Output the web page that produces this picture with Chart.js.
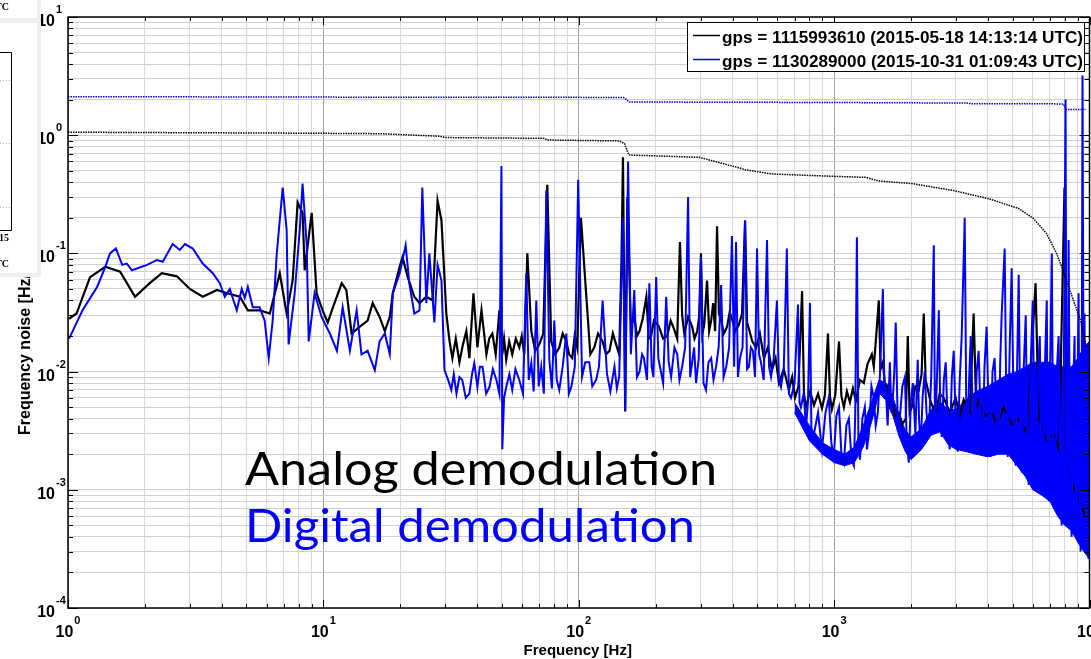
<!DOCTYPE html>
<html>
<head>
<meta charset="utf-8">
<script src="https://cdn.jsdelivr.net/npm/chart.js@4.4.1/dist/chart.umd.min.js"></script>
<style>
  html, body { margin: 0; padding: 0; background: #fff; overflow: hidden; }
  canvas { display: block; }
</style>
</head>
<body>
<canvas id="noiseChart" width="1091" height="659"></canvas>
<script>
// legend labels
const analogLabel = "gps = 1115993610 (2015-05-18 14:13:14 UTC)";
const digitalLabel = "gps = 1130289000 (2015-10-31 01:09:43 UTC)";

// axis decades (tick labels are 10^n of these)
const xDecades = [1, 10, 100, 1000, 10000];
const yDecades = [1e-4, 1e-3, 1e-2, 1e-1, 1, 10];
const minorSteps = [1, 2, 3, 4, 5, 6, 7, 8, 9];

// analog demodulation spectrum [Hz] / [Hz/rtHz]
const analogFreq = [1.01, 1.08, 1.22, 1.40, 1.60, 1.83, 2.09, 2.33, 2.67, 3.0, 3.37, 3.83, 4.19, 4.71, 5.06, 5.63, 6.17, 6.75, 7.18, 7.58,
  7.93, 8.29, 8.45, 9.0, 9.41, 9.93, 10.4, 10.9, 11.8, 12.3, 12.9, 13.9, 14.9, 15.6, 16.6, 17.4, 18.2, 18.7, 19.9, 20.4,
  21.4, 22.7, 23.8, 25.3, 26.8, 28.0, 29.0, 30.3, 31.2, 32.0, 33.0, 34.1, 35.2, 36.3, 37.3, 38.7, 40.1, 41.6, 43.5, 44.6,
  45.9, 47.3, 48.9, 50.2, 51.0, 52.0, 53.4, 54.9, 56.7, 58.5, 59.8, 61.2, 62.9, 65.2, 67.5, 70.1, 72.6, 75.3, 78.0, 80.9,
  83.9, 86.5, 89.4, 91.7, 94.3, 96.4, 98.6, 102, 107, 111, 115, 119, 124, 128, 132, 136, 140, 144, 147, 149,
  152, 155, 160, 165, 169, 173, 178, 184, 188, 192, 197, 206, 214, 222, 229, 236, 243, 249, 254, 259,
  268, 278, 284, 291, 296, 301, 305, 310, 318, 324, 330, 336, 342, 348, 354, 361, 370, 381, 390, 398,
  410, 424, 436, 448, 456, 464, 478, 495, 512, 531, 550, 571, 590, 608, 635, 665, 685, 703, 725, 749,
  762, 776, 805, 834, 865, 896, 920, 946, 963, 980, 1010, 1045, 1068, 1092, 1122, 1153, 1185, 1217, 1262, 1307,
  1350, 1405, 1430, 1456, 1496, 1520, 1552, 1590, 1623, 1650, 1682, 1735, 1791, 1850, 1908, 1943, 1975, 2014, 2080, 2145,
  2200, 2244, 2282, 2390, 2500, 2590, 2686, 2840, 2992, 3100, 3216, 3400, 3518, 3600, 3680, 3900, 4138, 4350, 4611, 4950,
  5276, 5700, 6149, 6323, 6800, 7232, 7600, 7982, 8128, 8600, 9057, 9500, 9908];
const analogNoise = [0.028, 0.031, 0.063, 0.077, 0.070, 0.043, 0.056, 0.068, 0.064, 0.050, 0.043, 0.049, 0.046, 0.043, 0.033, 0.033, 0.031, 0.068, 0.031, 0.059,
  0.27, 0.22, 0.072, 0.22, 0.046, 0.033, 0.026, 0.035, 0.056, 0.049, 0.021, 0.024, 0.027, 0.038, 0.029, 0.022, 0.029, 0.046, 0.077, 0.093,
  0.063, 0.043, 0.038, 0.043, 0.040, 0.28, 0.19, 0.031, 0.018, 0.013, 0.019, 0.012, 0.017, 0.022, 0.013, 0.046, 0.016, 0.033, 0.014, 0.019,
  0.021, 0.014, 0.033, 0.014, 0.019, 0.0126, 0.018, 0.014, 0.019, 0.016, 0.020, 0.014, 0.10, 0.022, 0.015, 0.017, 0.021, 0.38, 0.018, 0.014,
  0.016, 0.021, 0.018, 0.014, 0.013, 0.020, 0.016, 0.20, 0.044, 0.014, 0.016, 0.021, 0.018, 0.014, 0.015, 0.021, 0.017, 0.014, 0.088, 0.65,
  0.0046, 0.30, 0.024, 0.029, 0.020, 0.022, 0.028, 0.043, 0.019, 0.020, 0.027, 0.024, 0.019, 0.020, 0.027, 0.023, 0.019, 0.125, 0.030, 0.021,
  0.029, 0.024, 0.019, 0.022, 0.029, 0.10, 0.021, 0.025, 0.059, 0.022, 0.027, 0.038, 0.022, 0.17, 0.031, 0.027, 0.021, 0.024, 0.032, 0.028,
  0.022, 0.025, 0.031, 0.19, 0.026, 0.023, 0.018, 0.016, 0.021, 0.013, 0.016, 0.0103, 0.013, 0.008, 0.0105, 0.007, 0.009, 0.006, 0.0075, 0.048,
  0.0065, 0.005, 0.0068, 0.0052, 0.0065, 0.0049, 0.0063, 0.021, 0.0062, 0.0048, 0.0063, 0.018, 0.0062, 0.005, 0.0068, 0.0055, 0.0072, 0.0057, 0.0085, 0.008,
  0.0115, 0.014, 0.011, 0.018, 0.040, 0.0105, 0.012, 0.0068, 0.0075, 0.0052, 0.0057, 0.0042, 0.0045, 0.0036, 0.004, 0.020, 0.0045, 0.005, 0.0075, 0.007,
  0.0095, 0.031, 0.0085, 0.0055, 0.0045, 0.0065, 0.006, 0.0045, 0.006, 0.0042, 0.0058, 0.0046, 0.031, 0.005, 0.0057, 0.0042, 0.0045, 0.0035, 0.005, 0.0036,
  0.004, 0.003, 0.056, 0.004, 0.0026, 0.003, 0.0022, 0.36, 0.002, 0.0011, 0.0008, 0.00065, 0.0005];

// digital demodulation spectrum
const digitalFreq = [1.01, 1.14, 1.30, 1.40, 1.46, 1.54, 1.63, 1.70, 1.78, 2.04, 2.23, 2.35, 2.57, 2.74, 2.87, 3.08, 3.37, 3.69, 3.93, 4.11,
  4.30, 4.58, 4.79, 4.92, 5.06, 5.29, 5.63, 5.89, 6.11, 6.33, 6.57, 6.93, 7.18, 7.31, 7.72, 8.08, 8.29, 8.6, 8.76, 9.24,
  9.84, 10.6, 11.3, 11.9, 12.7, 13.5, 14.1, 14.9, 15.9, 16.6, 17.4, 18.2, 18.7, 19.9, 21.0, 21.7, 22.7, 23.8, 24.4, 25.3,
  26.0, 27.2, 28.0, 29.0, 29.8, 30.8, 31.7, 32.4, 33.2, 34.1, 35.0, 36.1, 37.3, 38.2, 39.0, 40.1, 41.0, 42.0, 43.4, 44.7,
  46.1, 47.6, 48.9, 49.8, 50.2, 51.0, 52.0, 53.5, 54.9, 56.5, 58.5, 60.5, 62.3, 63.7, 65.2, 66.6, 68.2, 69.7, 71.3, 73.0,
  74.6, 76.7, 78.5, 80.2, 82.0, 83.9, 86.5, 89.4, 91.5, 93.5, 96.5, 99.5, 103, 106, 110, 113, 117, 120, 124, 129,
  133, 138, 141, 144, 149, 152, 156, 160, 165, 169, 173, 177, 180, 185, 189, 193, 196, 201, 205, 208,
  214, 220, 225, 230, 237, 243, 248, 254, 261, 268, 273, 278, 283, 288, 295, 301, 308, 315, 322, 330,
  337, 345, 353, 361, 369, 378, 388, 398, 406, 413, 420, 428, 438, 448, 456, 464, 472, 481, 490, 499,
  508, 517, 530, 546, 556, 566, 580, 597, 608, 619, 635, 653, 665, 678, 700, 722, 732, 741, 760, 776,
  790, 804, 815, 834, 865, 896, 925, 953, 975, 997, 1020, 1045, 1068, 1092, 1117, 1142, 1170, 1195, 1210, 1228,
  1245, 1262, 1290, 1319, 1345, 1368, 1400, 1430, 1455, 1483, 1510, 1552, 1575, 1594, 1620, 1653, 1675, 1698, 1720, 1743,
  1775, 1808, 1850, 1893, 1925, 1961, 1995, 2033, 2080, 2125, 2150, 2183, 2220, 2264, 2300, 2346, 2400, 2456, 2480, 2500,
  2535, 2570, 2600, 2638, 2690, 2735, 2785, 2836, 2890, 2940, 2990, 3048, 3100, 3159, 3246, 3290, 3335, 3380, 3427, 3490,
  3552, 3615, 3680, 3750, 3815, 3880, 3955, 4020, 4100, 4170, 4250, 4330, 4407, 4470, 4529, 4654, 4720, 4783, 4870, 4958,
  5050, 5140, 5210, 5282, 5350, 5428, 5520, 5627, 5700, 5782, 5890, 5994, 6080, 6160, 6270, 6386, 6470, 6563, 6680, 6803,
  6860, 6927, 7020, 7117, 7200, 7299, 7430, 7568, 7680, 7781, 7920, 8057, 8130, 8207, 8283, 8400, 8511, 8620, 8740, 8820,
  8900, 8980, 9060, 9150, 9230, 9310, 9390, 9470, 9560, 9640, 9730, 9820, 9910];
const digitalNoise = [0.019, 0.033, 0.052, 0.077, 0.10, 0.11, 0.08, 0.082, 0.072, 0.080, 0.088, 0.085, 0.12, 0.107, 0.12, 0.11, 0.082, 0.068, 0.056, 0.043,
  0.05, 0.033, 0.05, 0.042, 0.052, 0.035, 0.035, 0.027, 0.013, 0.027, 0.10, 0.36, 0.158, 0.017, 0.046, 0.158, 0.39, 0.12, 0.018, 0.046,
  0.029, 0.021, 0.015, 0.035, 0.015, 0.033, 0.014, 0.015, 0.0103, 0.018, 0.021, 0.014, 0.046, 0.068, 0.117, 0.056, 0.031, 0.033, 0.36, 0.038,
  0.10, 0.026, 0.08, 0.059, 0.0103, 0.0085, 0.007, 0.0095, 0.0065, 0.009, 0.0085, 0.006, 0.0065, 0.0095, 0.0118, 0.0074, 0.011, 0.011, 0.0065, 0.0074,
  0.0105, 0.0085, 0.0065, 0.55, 0.0022, 0.006, 0.0074, 0.0095, 0.007, 0.0105, 0.0085, 0.0065, 0.068, 0.0085, 0.0118, 0.0068, 0.04, 0.0075, 0.011, 0.0065,
  0.34, 0.0126, 0.0072, 0.027, 0.0085, 0.007, 0.011, 0.021, 0.0065, 0.0074, 0.011, 0.42, 0.009, 0.012, 0.012, 0.0075, 0.0085, 0.011, 0.04, 0.0095,
  0.0068, 0.011, 0.0072, 0.009, 0.2, 0.0047, 0.6, 0.014, 0.049, 0.009, 0.01, 0.014, 0.013, 0.0085, 0.056, 0.011, 0.009, 0.063, 0.013, 0.011,
  0.008, 0.043, 0.012, 0.009, 0.016, 0.014, 0.0085, 0.011, 0.016, 0.3, 0.009, 0.012, 0.016, 0.008, 0.013, 0.093, 0.008, 0.007, 0.012, 0.013,
  0.0085, 0.011, 0.016, 0.054, 0.009, 0.011, 0.016, 0.14, 0.011, 0.125, 0.009, 0.013, 0.016, 0.19, 0.0105, 0.011, 0.016, 0.015, 0.009, 0.11,
  0.014, 0.012, 0.0085, 0.13, 0.011, 0.009, 0.013, 0.04, 0.0085, 0.0074, 0.0105, 0.11, 0.0065, 0.006, 0.008, 0.037, 0.0055, 0.005, 0.0065, 0.0034,
  0.0055, 0.038, 0.003, 0.003, 0.0045, 0.0022, 0.0045, 0.006, 0.0025, 0.0019, 0.0042, 0.005, 0.002, 0.0017, 0.0035, 0.004, 0.0018, 0.0016, 0.0045, 0.137,
  0.0025, 0.0018, 0.004, 0.005, 0.0022, 0.003, 0.0075, 0.006, 0.0035, 0.0045, 0.009, 0.05, 0.0065, 0.007, 0.0035, 0.012, 0.0045, 0.006, 0.0098, 0.026,
  0.0035, 0.004, 0.0075, 0.009, 0.0025, 0.0017, 0.0055, 0.008, 0.003, 0.0126, 0.004, 0.0023, 0.006, 0.01, 0.0045, 0.003, 0.009, 0.117, 0.005, 0.004,
  0.011, 0.033, 0.006, 0.0028, 0.0085, 0.012, 0.0035, 0.0022, 0.009, 0.015, 0.004, 0.0021, 0.008, 0.02, 0.2, 0.006, 0.003, 0.009, 0.02, 0.0045,
  0.0023, 0.01, 0.015, 0.004, 0.0021, 0.011, 0.024, 0.005, 0.0019, 0.01, 0.013, 0.004, 0.002, 0.012, 0.03, 0.11, 0.006, 0.0019, 0.016, 0.075,
  0.004, 0.0016, 0.012, 0.066, 0.005, 0.0014, 0.01, 0.03, 0.003, 0.0011, 0.012, 0.04, 0.004, 0.001, 0.008, 0.02, 0.003, 0.0009, 0.01, 0.04,
  0.002, 0.0008, 0.012, 0.1, 0.003, 0.0007, 0.009, 0.02, 0.002, 0.0005, 0.006, 2.0, 0.002, 0.0006, 0.13, 0.001, 0.0004, 0.006, 0.02, 0.0012,
  0.0004, 0.008, 0.046, 0.001, 0.0003, 0.002, 3.2, 0.01, 0.031, 0.001, 0.0003, 0.002, 0.00026];

// digital noise floor band (solid part of the trace above 700 Hz)
const digitalBandFreq = [700, 800, 900, 1000, 1100, 1200, 1300, 1400, 1500, 1600, 1700, 1800, 1900, 2000, 2200, 2400, 2600, 2800, 3000, 3300,
  3600, 4000, 4400, 4800, 5200, 5600, 6000, 6500, 7000, 7500, 8000, 8500, 9000, 9500, 10000];
const digitalBandLow = [0.0045, 0.0026, 0.002, 0.0017, 0.0016, 0.0017, 0.0023, 0.0037, 0.0066, 0.0057, 0.0042, 0.0028, 0.0021, 0.0018, 0.0022, 0.0029, 0.0031, 0.0024, 0.0022, 0.0021,
  0.002, 0.0019, 0.002, 0.002, 0.0016, 0.0013, 0.001, 0.0009, 0.0008, 0.0006, 0.0005, 0.00045, 0.00036, 0.0003, 0.00026];
const digitalBandHigh = [0.0055, 0.0035, 0.0025, 0.0022, 0.002, 0.0023, 0.0035, 0.0055, 0.0085, 0.008, 0.006, 0.0042, 0.0032, 0.0028, 0.0033, 0.0048, 0.0055, 0.0048, 0.0048, 0.0058,
  0.0068, 0.0075, 0.0085, 0.0095, 0.01, 0.011, 0.012, 0.012, 0.012, 0.011, 0.011, 0.011, 0.013, 0.016, 0.018];

// cumulative rms (dotted) curves
const analogRmsFreq = [1, 8.08, 16.6, 28.5, 30.3, 73.3, 75.3, 144, 151, 157, 296, 424, 448, 571, 954, 1331, 1496, 2014, 2940, 4028,
  5276, 6040, 6790, 7430, 8057, 8650, 9230, 9730];
const analogRms = [1.06, 1.04, 1.03, 0.98, 0.955, 0.94, 0.91, 0.895, 0.85, 0.68, 0.65, 0.53, 0.51, 0.47, 0.45, 0.44, 0.41, 0.39, 0.34, 0.29,
  0.24, 0.197, 0.147, 0.10, 0.063, 0.04, 0.027, 0.016];
const digitalRmsFreq = [1, 10, 100, 150, 158, 1000, 3300, 3400, 7900, 8100, 9700];
const digitalRms = [2.12, 2.10, 2.09, 2.08, 1.91, 1.89, 1.87, 1.85, 1.84, 1.65, 1.65];

function toPoints(xs, ys) {
  return xs.map((x, i) => ({ x: x, y: ys[i] }));
}

function buildTicks(decades, max) {
  let values = [];
  decades.forEach((d) => {
    minorSteps.forEach((m) => {
      if (d * m <= max * 1.0001) values.push(d * m);
    });
  });
  return values;
}

function isDecade(v) {
  let l = Math.log10(v);
  return Math.abs(l - Math.round(l)) < 1e-6;
}

const xTickValues = buildTicks(xDecades, 10000);
const yTickValues = buildTicks(yDecades, 10);

const labelFont = '"Liberation Sans", Arial, sans-serif';

const framePlugin = {
  id: "frame",
  afterDraw(chart) {
    const ctx = chart.ctx;
    const area = chart.chartArea;
    const xs = chart.scales.x;
    const ys = chart.scales.y;
    ctx.save();

    // inner ticks
    ctx.strokeStyle = "#000";
    ctx.lineWidth = 1;
    ctx.beginPath();
    xs.ticks.forEach((t) => {
      let px = Math.round(xs.getPixelForValue(t.value)) + 0.5;
      let len = t.major ? 8 : 4;
      ctx.moveTo(px, area.bottom);
      ctx.lineTo(px, area.bottom - len);
      ctx.moveTo(px, area.top);
      ctx.lineTo(px, area.top + len);
    });
    ys.ticks.forEach((t) => {
      let py = Math.round(ys.getPixelForValue(t.value)) + 0.5;
      let len = t.major ? 10 : 5;
      ctx.moveTo(area.left, py);
      ctx.lineTo(area.left + len, py);
      ctx.moveTo(area.right, py);
      ctx.lineTo(area.right - len, py);
    });
    ctx.stroke();

    // axes box
    ctx.lineWidth = 1.5;
    ctx.strokeRect(area.left, area.top, area.right - area.left, area.bottom - area.top);

    // tick labels 10^n
    ctx.fillStyle = "#000";
    ctx.textBaseline = "alphabetic";
    yDecades.forEach((d) => {
      let py = ys.getPixelForValue(d);
      let exp = String(Math.round(Math.log10(d)));
      ctx.font = "bold 16px " + labelFont;
      ctx.textAlign = "right";
      ctx.fillText("10", 55, py + 9);
      ctx.font = "bold 11px " + labelFont;
      ctx.textAlign = "left";
      ctx.fillText(exp, 56, py - 4);
    });
    xDecades.forEach((d) => {
      let px = xs.getPixelForValue(d);
      let exp = String(Math.round(Math.log10(d)));
      ctx.font = "bold 16px " + labelFont;
      let w10 = ctx.measureText("10").width;
      ctx.font = "bold 11px " + labelFont;
      let wExp = ctx.measureText(exp).width;
      let start = px - (w10 + 1 + wExp) / 2;
      ctx.textAlign = "left";
      ctx.font = "bold 16px " + labelFont;
      ctx.fillText("10", start, 637);
      ctx.font = "bold 11px " + labelFont;
      ctx.fillText(exp, start + w10 + 1, 624);
    });

    // axis titles
    ctx.font = "bold 15px " + labelFont;
    ctx.textAlign = "center";
    ctx.fillText("Frequency [Hz]", (area.left + area.right) / 2 - 1, 655);
    ctx.save();
    ctx.translate(30, 435);
    ctx.rotate(-Math.PI / 2);
    ctx.font = "bold 16px " + labelFont;
    ctx.textAlign = "left";
    ctx.fillText("Frequency noise [Hz/\u221AHz]", 0, 0);
    ctx.restore();

    // legend box
    ctx.fillStyle = "#fff";
    ctx.fillRect(687, 22, 398, 50);
    ctx.strokeStyle = "#000";
    ctx.lineWidth = 1;
    ctx.strokeRect(687.5, 22.5, 397, 49);
    const entries = [
      { label: analogLabel, color: "#000000", y: 35 },
      { label: digitalLabel, color: "#0000ff", y: 59 },
    ];
    entries.forEach((e) => {
      ctx.strokeStyle = e.color;
      ctx.lineWidth = 1.5;
      ctx.beginPath();
      ctx.moveTo(693, e.y + 0.5);
      ctx.lineTo(720, e.y + 0.5);
      ctx.stroke();
      ctx.fillStyle = "#000";
      ctx.font = "bold 17px " + labelFont;
      ctx.textAlign = "left";
      let w = ctx.measureText(e.label).width;
      ctx.save();
      ctx.translate(722, e.y + 8);
      ctx.scale(361 / w, 1);
      ctx.fillText(e.label, 0, 0);
      ctx.restore();
    });

    // annotation texts
    const notes = [
      { text: "Analog demodulation", color: "#000000", y: 485, width: 472 },
      { text: "Digital demodulation", color: "#0000ff", y: 542, width: 450 },
    ];
    notes.forEach((n) => {
      ctx.font = '400 47px Lato, "Open Sans", sans-serif';
      ctx.fillStyle = n.color;
      ctx.textAlign = "left";
      let w = ctx.measureText(n.text).width;
      ctx.save();
      ctx.translate(245, n.y);
      ctx.scale(n.width / w, 1);
      ctx.fillText(n.text, 0, 0);
      ctx.restore();
    });

    // piece of a neighbouring window on the left edge
    ctx.fillStyle = "#efefef";
    ctx.fillRect(0, 0, 41, 277);
    ctx.fillStyle = "#fff";
    ctx.fillRect(0, 0, 37, 18);
    ctx.fillRect(0, 23, 37, 250);
    ctx.strokeStyle = "#000";
    ctx.lineWidth = 1;
    ctx.beginPath();
    ctx.moveTo(0, 52.5);
    ctx.lineTo(11.5, 52.5);
    ctx.lineTo(11.5, 230.5);
    ctx.lineTo(0, 230.5);
    ctx.stroke();
    ctx.strokeStyle = "#aaa";
    ctx.setLineDash([1, 2]);
    ctx.beginPath();
    [80.5, 143.5, 207.5].forEach((gy) => {
      ctx.moveTo(0, gy);
      ctx.lineTo(11, gy);
    });
    ctx.stroke();
    ctx.setLineDash([]);
    ctx.fillStyle = "#000";
    ctx.font = 'bold 10px "Liberation Serif", serif';
    ctx.textAlign = "right";
    ctx.fillText("UTC", 9, 10);
    ctx.fillText("2015", 9, 241);
    ctx.fillText("UTC", 9, 267);
    ctx.restore();
  },
};

const ctx = document.getElementById("noiseChart");

new Chart(ctx, {
  type: "line",
  data: {
    datasets: [
      {
        label: digitalLabel,
        data: toPoints(digitalFreq, digitalNoise),
        borderColor: "#0000ff",
        borderWidth: 2,
        order: 1,
      },
      {
        label: analogLabel,
        data: toPoints(analogFreq, analogNoise),
        borderColor: "#000000",
        borderWidth: 2.2,
        order: 2,
      },
      {
        label: "digital rms",
        data: toPoints(digitalRmsFreq, digitalRms),
        borderColor: "#0000ff",
        borderWidth: 1.5,
        borderDash: [1.5, 1],
        order: 0,
      },
      {
        label: "analog rms",
        data: toPoints(analogRmsFreq, analogRms),
        borderColor: "#000000",
        borderWidth: 1.5,
        borderDash: [1.5, 1],
        order: 0,
      },
      {
        label: "digital floor low",
        data: toPoints(digitalBandFreq, digitalBandLow),
        borderColor: "#0000ff",
        borderWidth: 1,
        order: 3,
      },
      {
        label: "digital floor high",
        data: toPoints(digitalBandFreq, digitalBandHigh),
        borderColor: "#0000ff",
        backgroundColor: "#0000ff",
        borderWidth: 1,
        fill: 4,
        order: 3,
      },
    ],
  },
  options: {
    responsive: false,
    animation: false,
    events: [],
    layout: { padding: { top: 17, right: 1.5, left: 0, bottom: 0 } },
    elements: {
      point: { radius: 0 },
      line: { tension: 0, fill: false },
    },
    plugins: {
      legend: { display: false },
      tooltip: { enabled: false },
    },
    scales: {
      x: {
        type: "logarithmic",
        min: 1,
        max: 10000,
        afterBuildTicks: (scale) => {
          scale.ticks = xTickValues.map((v) => ({ value: v, major: isDecade(v) }));
        },
        afterFit: (scale) => {
          scale.height = 51;
        },
        ticks: { display: false },
        grid: {
          drawTicks: false,
          lineWidth: 1,
          color: (c) => (c.tick && c.tick.major ? "#a0a0a0" : "#d9d9d9"),
        },
        border: { display: false },
      },
      y: {
        type: "logarithmic",
        min: 1e-4,
        max: 10,
        afterBuildTicks: (scale) => {
          scale.ticks = yTickValues.map((v) => ({ value: v, major: isDecade(v) }));
        },
        afterFit: (scale) => {
          scale.width = 68;
        },
        ticks: { display: false },
        grid: {
          drawTicks: false,
          lineWidth: 1,
          color: "#d0d0d0",
        },
        border: { display: false },
      },
    },
  },
  plugins: [framePlugin],
});
</script>
</body>
</html>
